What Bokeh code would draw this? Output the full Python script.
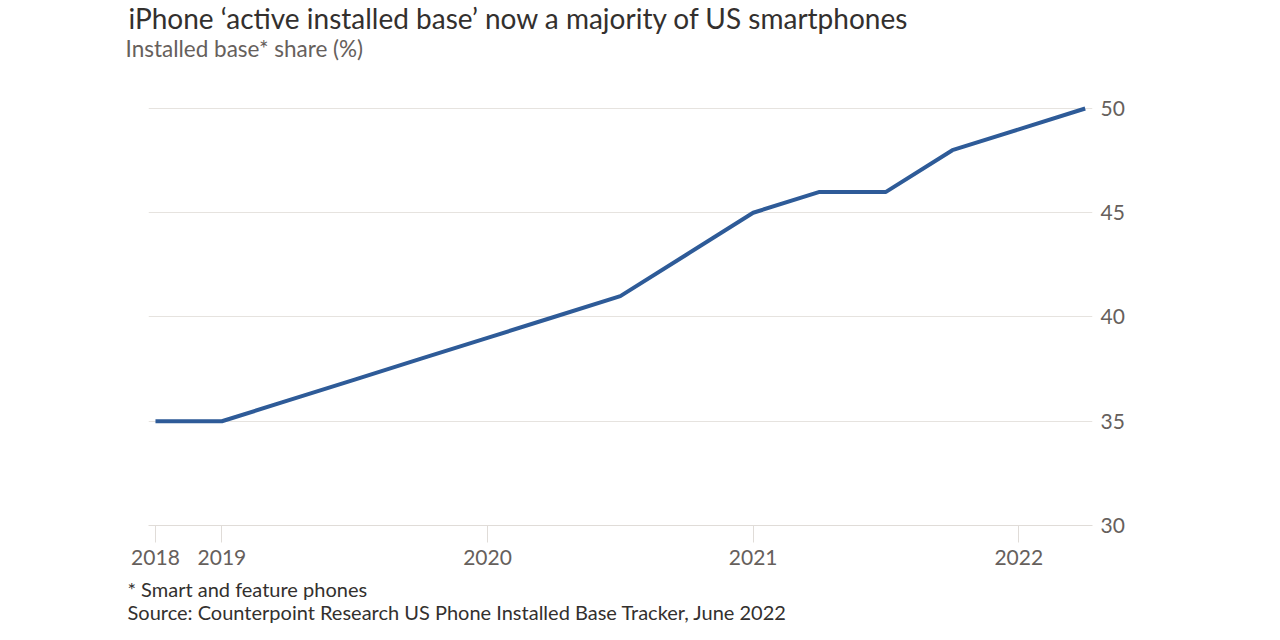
from bokeh.plotting import figure
from bokeh.models import FixedTicker, Title, Range1d, ColumnDataSource
from bokeh.embed import file_html
from bokeh.resources import INLINE

# ---- data ----
quarters = ["Q4 2018", "Q1 2019", "Q2 2019", "Q3 2019", "Q4 2019",
            "Q1 2020", "Q2 2020", "Q3 2020", "Q4 2020",
            "Q1 2021", "Q2 2021", "Q3 2021", "Q4 2021",
            "Q1 2022", "Q2 2022"]
share = [35, 35, 36, 37, 38, 39, 40, 41, 43, 45, 46, 46, 48, 49, 50]
tick_positions = [0, 1, 5, 9, 13]
tick_labels = ["2018", "2019", "2020", "2021", "2022"]
y_ticks = [30, 35, 40, 45, 50]

title_text = "iPhone \u2018active installed base\u2019 now a majority of US smartphones"
subtitle_text = "Installed base* share (%)"
footnote_text = "* Smart and feature phones"
source_text = "Source: Counterpoint Research US Phone Installed Base Tracker, June 2022"

FONT = "Lato"
GREY = "#66605C"
GRID = "#E6E3DF"

src = ColumnDataSource(dict(x=list(range(len(quarters))), y=share, q=quarters))

p = figure(width=1264, height=624, output_backend="svg", toolbar_location=None,
           title=None, x_range=Range1d(-0.105, 14.11), y_range=Range1d(30, 52.254),
           y_axis_location="right",
           min_border_left=148, min_border_right=172,
           min_border_top=61, min_border_bottom=99)

p.outline_line_color = None
p.background_fill_color = "white"
p.border_fill_color = "white"

p.line("x", "y", source=src, line_color="#2E5B98", line_width=4)

# x axis
xa = p.xaxis[0]
xa.ticker = FixedTicker(ticks=tick_positions)
xa.major_label_overrides = {t: l for t, l in zip(tick_positions, tick_labels)}
xa.axis_line_color = "#E0DCD8"
xa.major_tick_line_color = "#E0DCD8"
xa.major_tick_out = 17
xa.major_tick_in = 0
xa.minor_tick_line_color = None
xa.major_label_standoff = 7
xa.major_label_text_font = FONT
xa.major_label_text_font_size = "21px"
xa.major_label_text_color = GREY

# y axis
ya = p.yaxis[0]
ya.ticker = FixedTicker(ticks=y_ticks)
ya.axis_line_color = None
ya.major_tick_line_color = None
ya.minor_tick_line_color = None
ya.major_label_standoff = 2
ya.major_label_text_font = FONT
ya.major_label_text_font_size = "21px"
ya.major_label_text_color = GREY

p.xgrid.grid_line_color = None
p.ygrid.ticker = FixedTicker(ticks=y_ticks)
p.ygrid.grid_line_color = GRID
p.ygrid.grid_line_width = 1

def add_title(txt, side, offset, size, color, standoff):
    p.add_layout(Title(text=txt, align="left", offset=offset, standoff=standoff,
                       text_font=FONT, text_font_size=size, text_color=color,
                       text_font_style="normal"), side)

add_title(subtitle_text, "above", -23, "22.5px", GREY, 0)
add_title(title_text, "above", -20, "28px", "#33302E", -4)
add_title(footnote_text, "below", -21, "20px", "#33302E", 14.6)
add_title(source_text, "below", -21, "20px", "#33302E", -20.6)

open("out.html", "w").write(file_html(p, INLINE))
